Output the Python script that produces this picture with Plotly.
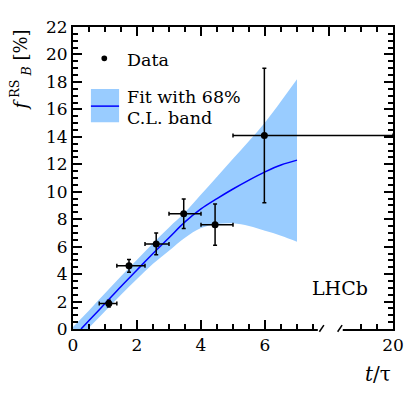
import plotly.graph_objects as go

# broken t/tau axis: 0..8 shown as is, the last stretch ends at 20
X_OFFSET = 10.0          # real t/tau = displayed value + offset beyond the break
X_MAX = 10.0             # displayed right edge (= 20)
BREAK_LO, BREAK_HI = 7.65, 8.43

# measured fractions (per bin)
T_MEAN = [1.12, 1.75, 2.6, 3.46, 4.44, 5.98]
BIN_LO = [0.82, 1.37, 2.25, 3.0, 4.0, 5.0]
BIN_HI = [1.37, 2.25, 3.0, 4.0, 5.0, 20.0]
FRAC = [1.85, 4.6, 6.2, 8.4, 7.6, 14.1]
FRAC_ERR = [0.25, 0.47, 0.8, 1.07, 1.5, 4.9]

# fit and 68% CL band
FIT_T = [0.25, 0.5, 1.0, 1.5, 2.0, 2.5, 3.0, 3.5, 4.0, 4.5, 5.0, 5.5, 6.0, 6.5, 7.0]
FIT_F = [0.0, 0.62, 1.85, 3.1, 4.3, 5.5, 6.65, 7.8, 8.75, 9.5, 10.2, 10.85, 11.45, 11.95, 12.3]
BAND_T = [0.0, 0.5, 1.0, 1.5, 2.0, 2.5, 3.0, 3.5, 4.0, 4.5, 5.0, 5.5, 6.0, 6.5, 7.0]
BAND_UP = [0.15, 1.35, 2.6, 3.85, 5.05, 6.25, 7.4, 8.5, 9.8, 11.1, 12.4, 13.7, 15.05, 16.6, 18.2]
BAND_LO = [-1.1, 0.1, 1.3, 2.5, 3.65, 4.75, 5.7, 6.65, 7.35, 7.65, 7.7, 7.5, 7.15, 6.8, 6.36]

X_TICKS = [0, 2, 4, 6, 20]
Y_MAX = 22

FONT = "DejaVu Serif"
BAND_COLOR = "#99CCFF"


def disp(t):
    return t if t <= 8 else t - X_OFFSET


def px(xd):
    return xd / X_MAX


fig = go.Figure()

fig.add_trace(go.Scatter(x=[disp(t) for t in BAND_T], y=BAND_LO, mode="lines",
                         line=dict(width=0, shape="spline", color=BAND_COLOR),
                         hoverinfo="skip", showlegend=False))
fig.add_trace(go.Scatter(x=[disp(t) for t in BAND_T], y=BAND_UP, mode="lines",
                         line=dict(width=0, shape="spline", color=BAND_COLOR),
                         fill="tonexty", fillcolor=BAND_COLOR,
                         hoverinfo="skip", showlegend=False))
fig.add_trace(go.Scatter(x=[disp(t) for t in FIT_T], y=FIT_F, mode="lines",
                         line=dict(width=1.5, shape="spline", color="#0000FF"),
                         showlegend=False))

xd = [disp(t) for t in T_MEAN]
fig.add_trace(go.Scatter(
    x=xd, y=FRAC, mode="markers",
    marker=dict(size=7, color="black"),
    error_y=dict(type="data", array=FRAC_ERR, color="black", thickness=1.5, width=2),
    error_x=dict(type="data", symmetric=False,
                 array=[disp(h) - x for h, x in zip(BIN_HI, xd)],
                 arrayminus=[x - disp(l) for l, x in zip(BIN_LO, xd)],
                 color="black", thickness=1.5, width=2),
    showlegend=False,
))

# dummy trace so the top axis is drawn
fig.add_trace(go.Scatter(x=[0], y=[-5], xaxis="x2", mode="markers",
                         marker=dict(opacity=0), hoverinfo="skip", showlegend=False))

minor_bottom = [v / 2 for v in range(1, 16) if v % 4 != 0] + [9.0, 9.5]

fig.update_layout(
    width=415, height=393,
    margin=dict(l=73, r=22, t=27, b=64),
    plot_bgcolor="white", paper_bgcolor="white",
    font=dict(family=FONT, size=17, color="black"),
    showlegend=False,
    xaxis=dict(range=[0, X_MAX], showline=True, linecolor="black", linewidth=2,
               ticks="inside", ticklen=9, tickwidth=1.5, tickcolor="black",
               tickmode="array", tickvals=[disp(t) for t in X_TICKS],
               ticktext=[str(t) for t in X_TICKS],
               minor=dict(tickmode="array", tickvals=minor_bottom, ticks="inside",
                          ticklen=5, tickwidth=1.5, tickcolor="black"),
               showgrid=False, zeroline=False, automargin=False),
    xaxis2=dict(range=[0, X_MAX], overlaying="x", side="top", anchor="y",
                showline=True, linecolor="black", linewidth=2,
                ticks="inside", ticklen=9, tickwidth=1.5, tickcolor="black", dtick=2,
                minor=dict(dtick=0.5, ticks="inside", ticklen=5, tickwidth=1.5,
                           tickcolor="black"),
                showticklabels=False, showgrid=False, zeroline=False, automargin=False),
    yaxis=dict(range=[0, Y_MAX], showline=True, linecolor="black", linewidth=2,
               mirror="ticks", ticks="inside", ticklen=9, tickwidth=1.5,
               tickcolor="black", dtick=2,
               minor=dict(dtick=0.5, ticks="inside", ticklen=5, tickwidth=1.5,
                          tickcolor="black"),
               showgrid=False, zeroline=False, automargin=False),
)

# axis break
fig.add_shape(type="rect", xref="paper", yref="paper",
              x0=px(BREAK_LO), x1=px(BREAK_HI), y0=-0.015, y1=0.015,
              fillcolor="white", line=dict(width=0), layer="above")
for xb in (7.7, 8.27):
    fig.add_shape(type="line", xref="paper", yref="paper",
                  x0=px(xb), y0=-0.009, x1=px(xb + 0.14), y1=0.013,
                  line=dict(color="black", width=1.5), layer="above")

# legend
fig.add_shape(type="circle", xref="paper", yref="paper",
              x0=0.0978 - 0.009, x1=0.0978 + 0.009, y0=0.8964 - 0.0095, y1=0.8964 + 0.0095,
              fillcolor="black", line=dict(width=0))
fig.add_shape(type="rect", xref="paper", yref="paper",
              x0=0.056, x1=0.144, y0=0.685, y1=0.795,
              fillcolor=BAND_COLOR, line=dict(width=0))
fig.add_shape(type="line", xref="paper", yref="paper",
              x0=0.056, x1=0.144, y0=0.738, y1=0.738,
              line=dict(color="#0000FF", width=1.5))
legend_text = [("Data", 0.891), ("Fit with 68%", 0.769), ("C.L. band", 0.698)]
for txt, yy in legend_text:
    fig.add_annotation(text=txt, xref="paper", yref="paper", x=0.163, y=yy,
                       xanchor="left", yanchor="middle", showarrow=False,
                       font=dict(family=FONT, size=17.5))

fig.add_annotation(text="LHCb", xref="paper", yref="paper", x=0.834, y=0.136,
                   xanchor="center", yanchor="middle", showarrow=False,
                   font=dict(family=FONT, size=19))

# axis titles
fig.add_annotation(text="<i>t</i>/τ", xref="paper", yref="paper", x=1.0, y=-0.149,
                   xanchor="right", yanchor="middle", showarrow=False,
                   font=dict(family=FONT, size=20))
fig.add_annotation(text="<i>f</i><sup> RS</sup><sub> <i>B</i></sub> [%]",
                   xref="paper", yref="paper", x=-0.166, y=1.0,
                   xanchor="center", yanchor="top", textangle=-90, showarrow=False,
                   font=dict(family=FONT, size=18))

fig.write_html("out.html", config={"displayModeBar": False},
               post_script="document.body.style.margin = '0';")
